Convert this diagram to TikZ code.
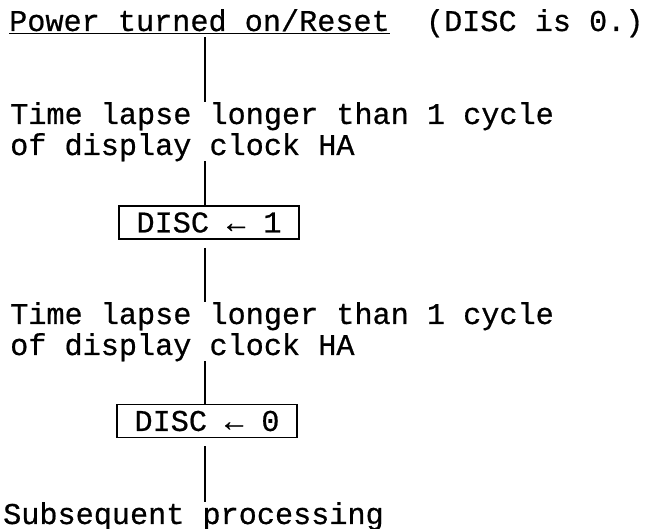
\documentclass[tikz,border=0pt]{standalone}
\usepackage{fontspec}
\setmainfont{Liberation Mono}[FakeBold=0.6]
\usepackage{tikz}
\begin{document}
\begin{tikzpicture}[x=1pt,y=-1pt,font=\fontsize{30.2}{32}\selectfont,
  txt/.style={inner sep=0pt,anchor=base west},
  regbox/.style={draw,line width=1.6pt,minimum width=180pt,minimum height=33pt,inner sep=0pt},
  spine/.style={line width=1.6pt}]
\useasboundingbox (0,0) rectangle (649,529);
\coordinate (sx) at (205,0);
\node[txt] (power) at (9,31) {\underline{Power turned on/Reset}\ \ (DISC is 0.)};
\node[txt] (lapseAa) at (10,124) {Time lapse longer than 1 cycle};
\node[txt] (lapseAb) at (10,155) {of display clock HA};
\node[regbox] (discA) at (209,222.5) {DISC ← 1};
\node[txt] (lapseBa) at (10,324) {Time lapse longer than 1 cycle};
\node[txt] (lapseBb) at (10,355) {of display clock HA};
\node[regbox] (discB) at (207,421) {DISC ← 0};
\node[txt] (subseq) at (3,524) {Subsequent processing};
% vertical connectors
\draw[spine] (power.south -| sx) -- (lapseAa.north -| sx);
\draw[spine] (lapseAb.south -| sx) -- (discA.north -| sx);
\draw[spine,shorten <=8pt] (discA.south -| sx) -- (lapseBa.north -| sx);
\draw[spine] (lapseBb.south -| sx) -- (discB.north -| sx);
\draw[spine,shorten <=8pt] (discB.south -| sx) -- (subseq.north -| sx);
\end{tikzpicture}
\end{document}
